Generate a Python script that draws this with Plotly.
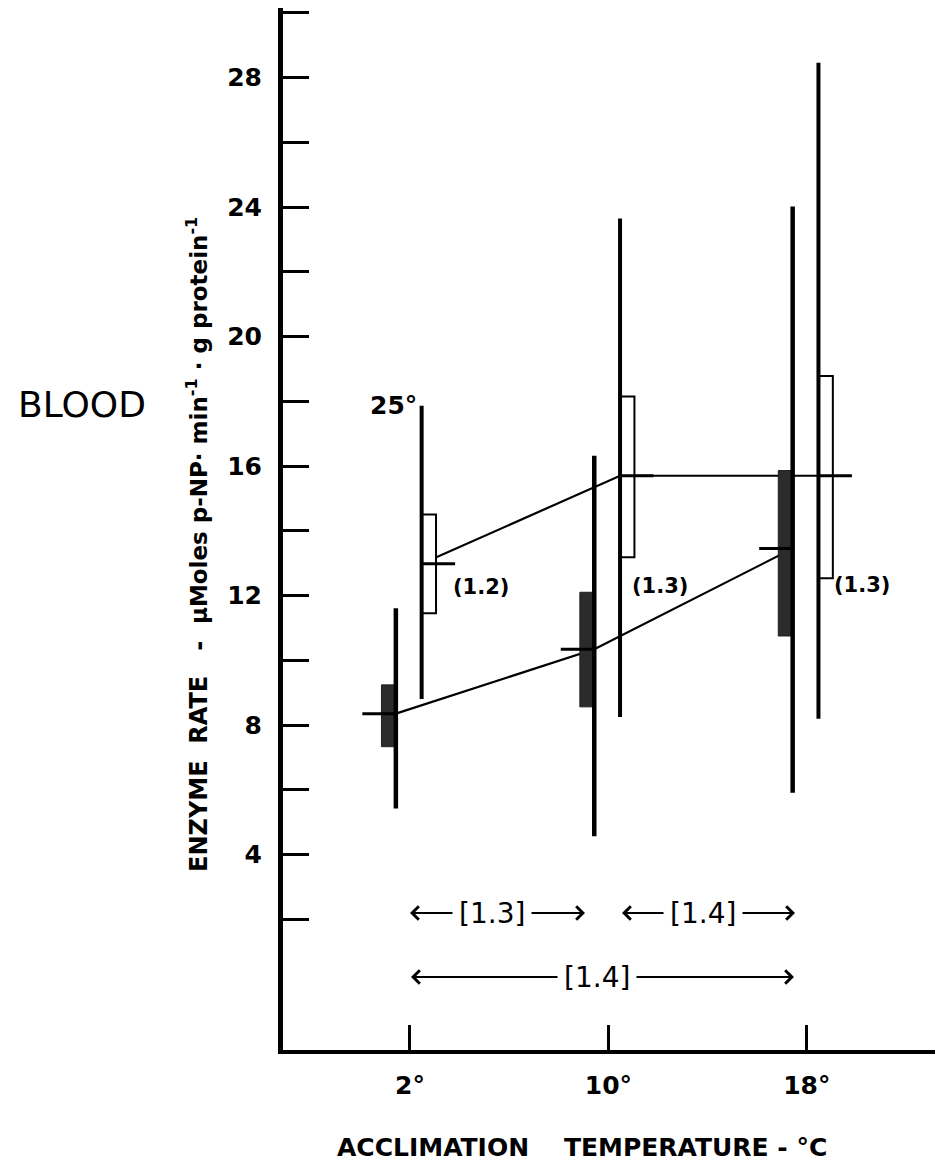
import plotly.graph_objects as go

# ---------------- data ----------------
temps = [2, 10, 18]                     # acclimation temperature, deg C
tick_text = ["2°", "10°", "18°"]

# measured at acclimation temperature (filled bars)
filled_lo = [5.42, 4.56, 5.91]
filled_hi = [11.61, 16.32, 24.02]
filled_box_lo = [7.33, 8.56, 10.75]
filled_box_hi = [9.24, 12.10, 15.86]
filled_mean = [8.35, 10.34, 13.45]

# measured at 25 deg C (open bars)
open_lo = [8.80, 8.25, 8.19]
open_hi = [17.86, 23.65, 28.46]
open_box_lo = [11.45, 13.18, 12.53]
open_box_hi = [14.50, 18.15, 18.78]
open_mean = [12.98, 15.70, 15.70]

ratio_labels = ["(1.2)", "(1.3)", "(1.3)"]
comp_labels = ["[1.3]", "[1.4]", "[1.4]"]

y_ticks = list(range(2, 31, 2))
y_tick_text = [str(v) if (v % 4 == 0 and v < 30) else "" for v in y_ticks]

# ---------------- geometry helpers ----------------
FILLED_OFF = -0.57
OPEN_OFF = 0.47
BOX_W = 0.58
MEAN_LEN = 1.35

fx = [t + FILLED_OFF for t in temps]
ox = [t + OPEN_OFF for t in temps]

PAGE_OFF = 8                      # default body margin of the html page
W, H = 935, 1163
L, R, T, B = 275, 5, 0, 121
PW = W - L - R
PH = H - T - B
XR = [-3.12, 23.29]
YR = [-2.04, 30.15]


def pxp(x):  # screen pixel -> paper x
    return (x - PAGE_OFF - L) / PW


def pyp(y):  # screen pixel -> paper y
    return (H - B - (y - PAGE_OFF)) / PH


def xd(x):  # screen pixel -> data x
    return XR[0] + pxp(x) * (XR[1] - XR[0])


def yd(y):  # screen pixel -> data y
    return YR[0] + pyp(y) * (YR[1] - YR[0])


FONT = "DejaVu Sans"
fig = go.Figure()

# connecting lines of the means
fig.add_trace(go.Scatter(x=fx, y=filled_mean, mode="lines",
                         line=dict(color="black", width=2.2), hoverinfo="skip"))
fig.add_trace(go.Scatter(x=ox, y=open_mean, mode="lines",
                         line=dict(color="black", width=2.2), hoverinfo="skip"))

# boxes
for x, lo, hi in zip(fx, filled_box_lo, filled_box_hi):
    fig.add_trace(go.Scatter(x=[x - BOX_W, x, x, x - BOX_W, x - BOX_W],
                             y=[lo, lo, hi, hi, lo], mode="lines", fill="toself",
                             fillcolor="#2b2b2b", line=dict(color="#1e1e1e", width=1),
                             hoverinfo="skip"))
for x, lo, hi in zip(ox, open_box_lo, open_box_hi):
    fig.add_trace(go.Scatter(x=[x, x + BOX_W, x + BOX_W, x, x],
                             y=[lo, lo, hi, hi, lo], mode="lines", fill="toself",
                             fillcolor="white", line=dict(color="black", width=2),
                             hoverinfo="skip"))


# range lines
def seg_lists(xs, los, his):
    sx, sy = [], []
    for x, lo, hi in zip(xs, los, his):
        sx += [x, x, None]
        sy += [lo, hi, None]
    return sx, sy


sx, sy = seg_lists(fx, filled_lo, filled_hi)
fig.add_trace(go.Scatter(x=sx, y=sy, mode="lines", line=dict(color="black", width=4.5),
                         hoverinfo="skip"))
sx, sy = seg_lists(ox, open_lo, open_hi)
fig.add_trace(go.Scatter(x=sx, y=sy, mode="lines", line=dict(color="black", width=4),
                         hoverinfo="skip"))

# mean ticks
mx, my = [], []
for x, m in zip(fx, filled_mean):
    mx += [x - MEAN_LEN, x, None]
    my += [m, m, None]
for x, m in zip(ox, open_mean):
    mx += [x, x + MEAN_LEN, None]
    my += [m, m, None]
fig.add_trace(go.Scatter(x=mx, y=my, mode="lines", line=dict(color="black", width=3),
                         hoverinfo="skip"))

ann = []
# ratio labels next to open bars
lab_px = [(481, 587), (660, 586), (862, 585)]
for txt, (px_, py_) in zip(ratio_labels, lab_px):
    ann.append(dict(x=xd(px_), y=yd(py_), text=txt, showarrow=False,
                    xanchor="center", yanchor="middle",
                    font=dict(size=21, family=FONT, weight="bold")))

ann.append(dict(x=xd(393), y=yd(405), text="25°", showarrow=False,
                xanchor="center", yanchor="middle",
                font=dict(size=25, family=FONT, weight="bold")))

# comparison arrows
rows = [
    # (label, left tip px, text centre px, right tip px, y px)
    (comp_labels[0], 410, 492, 585, 913),
    (comp_labels[1], 622, 703, 795, 913),
    (comp_labels[2], 411, 597, 794, 977),
]
TXT_HALF = 38
for lab, lt, tc, rt, ypx in rows:
    yy = yd(ypx)
    ann.append(dict(x=xd(tc), y=yy, text=lab, showarrow=False,
                    xanchor="center", yanchor="middle",
                    font=dict(size=28, family=FONT)))
    ann.append(dict(x=xd(lt), y=yy, ax=xd(tc - TXT_HALF), ay=yy, axref="x", ayref="y",
                    text="", showarrow=True, arrowhead=4, arrowsize=1.3, arrowwidth=2,
                    arrowcolor="black", standoff=0, startstandoff=0))
    ann.append(dict(x=xd(rt), y=yy, ax=xd(tc + TXT_HALF), ay=yy, axref="x", ayref="y",
                    text="", showarrow=True, arrowhead=4, arrowsize=1.3, arrowwidth=2,
                    arrowcolor="black", standoff=0, startstandoff=0))

# titles
ann.append(dict(xref="paper", yref="paper", x=pxp(82), y=pyp(404), text="BLOOD",
                xanchor="center", yanchor="middle",
                showarrow=False, font=dict(size=36, family=FONT)))
ytitle = ("ENZYME\u00a0\u00a0RATE\u00a0\u00a0\u00a0-\u00a0\u00a0"
          "<span style=\"font-size:23px\">µMoles p-NP· min<sup>-1</sup>\u00a0·\u00a0g protein<sup>-1</sup></span>")
ann.append(dict(xref="paper", yref="paper", x=pxp(197), y=pyp(545), text=ytitle,
                textangle=-90, showarrow=False, xanchor="center", yanchor="middle",
                font=dict(size=24, family=FONT, weight="bold")))
ann.append(dict(xref="paper", yref="paper", x=pxp(582), y=pyp(1147),
                text="ACCLIMATION\u00a0\u00a0\u00a0\u00a0TEMPERATURE - °C",
                xanchor="center", yanchor="middle",
                showarrow=False, font=dict(size=25, family=FONT, weight="bold")))

fig.update_layout(
    width=W, height=H, margin=dict(l=L, r=R, t=T, b=B),
    plot_bgcolor="white", paper_bgcolor="white", showlegend=False,
    font=dict(family=FONT, color="black"),
    annotations=ann,
    xaxis=dict(range=XR, tickvals=temps, ticktext=tick_text, ticks="inside",
               ticklen=25, tickwidth=3, tickcolor="black", showline=True,
               linewidth=4, linecolor="black", showgrid=False, zeroline=False,
               tickfont=dict(size=25, family=FONT, weight="bold"),
               ticklabelstandoff=10, fixedrange=True),
    yaxis=dict(range=YR, tickvals=y_ticks, ticktext=y_tick_text, ticks="inside",
               ticklen=26, tickwidth=3, tickcolor="black", showline=True,
               linewidth=5, linecolor="black", showgrid=False, zeroline=False,
               tickfont=dict(size=25, family=FONT, weight="bold"),
               ticklabelstandoff=11, fixedrange=True),
)

fig.write_html("out.html")
